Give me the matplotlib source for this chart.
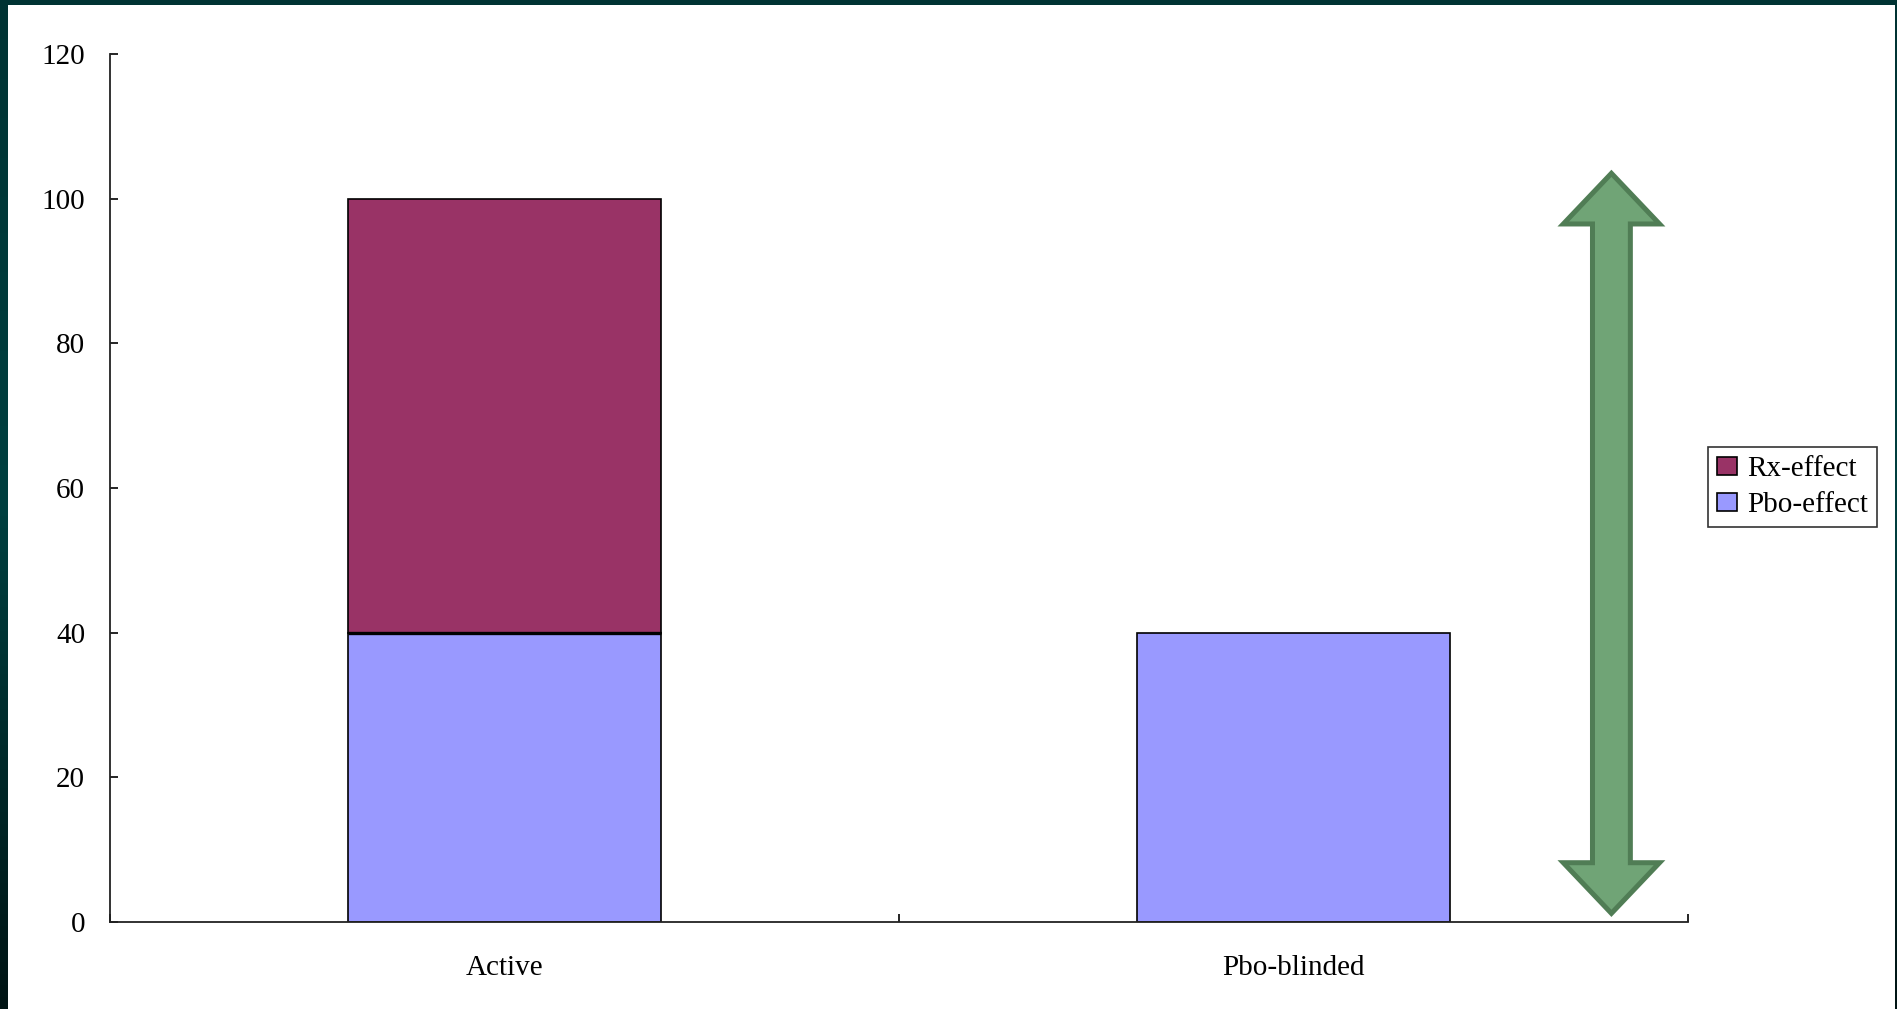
import matplotlib.pyplot as plt
import matplotlib.patches as mpatches
from matplotlib.colors import LinearSegmentedColormap
import numpy as np

# datos
categorias = ["Active", "Pbo-blinded"]
pbo_effect = [40, 40]
rx_effect = [60, 0]
y_ticks = [0, 20, 40, 60, 80, 100, 120]

# flecha doble (rango del efecto)
flecha_x = 1.403
flecha_y0 = 1.2
flecha_y1 = 103.5

color_rx = "#993366"
color_pbo = "#9999FF"

plt.rcParams['font.family'] = ['Liberation Serif', 'DejaVu Serif']

fig = plt.figure(figsize=(18.97, 10.09), dpi=100, facecolor="#003333")

# fondo con degradado oscuro (borde de la diapositiva)
fondo = fig.add_axes([0, 0, 1, 1], zorder=-2)
cmap_fondo = LinearSegmentedColormap.from_list("fondo", ["#003333", "#004040", "#011414"])
fondo.imshow(np.linspace(0, 1, 256).reshape(-1, 1), aspect="auto", cmap=cmap_fondo,
             extent=[0, 1, 0, 1], origin="upper")
fondo.add_patch(mpatches.Rectangle((8 / 1897, 0), (1895 - 8) / 1897, (1009 - 5) / 1009,
                                   facecolor="white", edgecolor="none"))
fondo.set_xlim(0, 1)
fondo.set_ylim(0, 1)
fondo.axis("off")

ax = fig.add_axes([0.058, 0.0862, 0.8318, 0.8603])
ax.set_facecolor("white")

x = np.arange(len(categorias))
ancho = 0.397
ax.bar(x, pbo_effect, ancho, color=color_pbo, edgecolor="black", linewidth=1.2,
       label="Pbo-effect", zorder=2)
mask = np.array(rx_effect) > 0
ax.bar(x[mask], np.array(rx_effect)[mask], ancho, bottom=np.array(pbo_effect)[mask],
       color=color_rx, edgecolor="black", linewidth=1.2, label="Rx-effect", zorder=2)
# unión entre segmentos apilados, más gruesa
ax.hlines(np.array(pbo_effect)[mask], x[mask] - ancho / 2, x[mask] + ancho / 2,
          color="black", linewidth=2.4, zorder=3)

ax.set_xlim(-0.5, 1.5)
ax.set_ylim(0, 120)
ax.set_yticks(y_ticks)

# ticks en los límites de categoría, etiquetas en el centro
ax.set_xticks([-0.5, 0.5, 1.5])
ax.set_xticklabels([])
ax.set_xticks(x, minor=True)
ax.set_xticklabels(categorias, minor=True)
ax.tick_params(axis="x", which="major", direction="in", length=6, width=1.2)
ax.tick_params(axis="x", which="minor", length=0, pad=24, labelsize=21)
ax.tick_params(axis="y", direction="in", length=6, width=1.2, pad=18, labelsize=21)

for lado in ["top", "right"]:
    ax.spines[lado].set_visible(False)
for lado in ["left", "bottom"]:
    ax.spines[lado].set_linewidth(1.3)
    ax.spines[lado].set_color("#222222")


def flecha_doble(xc, y0, y1, ancho_cab=0.122, ancho_cuerpo=0.048, largo_cab=7.0):
    hc = ancho_cab / 2
    hb = ancho_cuerpo / 2
    puntos = [
        (xc, y1), (xc + hc, y1 - largo_cab), (xc + hb, y1 - largo_cab),
        (xc + hb, y0 + largo_cab), (xc + hc, y0 + largo_cab), (xc, y0),
        (xc - hc, y0 + largo_cab), (xc - hb, y0 + largo_cab),
        (xc - hb, y1 - largo_cab), (xc - hc, y1 - largo_cab),
    ]
    return mpatches.Polygon(puntos, closed=True, facecolor="#70A476",
                            edgecolor="#507D55", linewidth=3.6, joinstyle="miter",
                            zorder=3, clip_on=False)


ax.add_patch(flecha_doble(flecha_x, flecha_y0, flecha_y1))

handles, labels = ax.get_legend_handles_labels()
leg = fig.legend(handles[::-1], labels[::-1], loc="center left",
                 bbox_to_anchor=(0.9004, 0.517), fontsize=21, frameon=True,
                 fancybox=False, shadow=False, handlelength=0.7, handleheight=0.6,
                 handletextpad=0.35, borderpad=0.3, labelspacing=0.35,
                 borderaxespad=0)
leg.get_frame().set_edgecolor("black")
leg.get_frame().set_linewidth(1.2)

fig.savefig("out.png", dpi=100, facecolor=fig.get_facecolor())
